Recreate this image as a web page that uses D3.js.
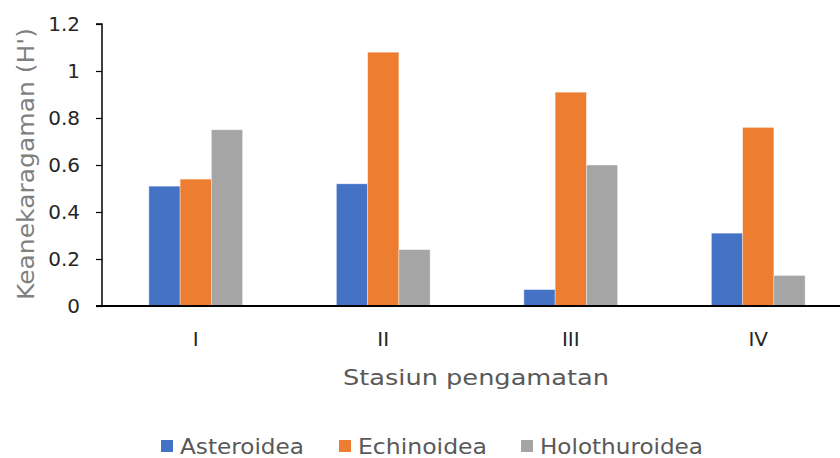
<!DOCTYPE html>
<html>
<head>
<meta charset="utf-8">
<script src="https://cdn.jsdelivr.net/npm/d3@7"></script>
<style>
  html, body { margin: 0; padding: 0; background: #fff; }
  svg text { font-family: "DejaVu Sans", "Open Sans", sans-serif; }
</style>
</head>
<body>
<svg id="chart" width="840" height="458"></svg>
<script>
// Diversity index (H') per observation station
const stations = ["I", "II", "III", "IV"];
const seriesNames = ["Asteroidea", "Echinoidea", "Holothuroidea"];
const asteroidea = [0.51, 0.52, 0.07, 0.31];
const echinoidea = [0.54, 1.08, 0.91, 0.76];
const holothuroidea = [0.75, 0.24, 0.60, 0.13];
const yTicks = [0, 0.2, 0.4, 0.6, 0.8, 1, 1.2];
const colors = ["#4472C4", "#ED7D31", "#A5A5A5"];

const seriesValues = [asteroidea, echinoidea, holothuroidea];

const svg = d3.select("#chart");
const plotLeft = 102, plotRight = 852, plotTop = 24, plotBottom = 306;

const x = d3.scaleBand().domain(stations).range([plotLeft, plotRight]).paddingInner(0.5).paddingOuter(0.25);
const xs = d3.scaleBand().domain(seriesNames).range([0, x.bandwidth()]);
const y = d3.scaleLinear().domain([0, 1.2]).range([plotBottom, plotTop]);

// bars
stations.forEach((st, i) => {
  seriesNames.forEach((s, j) => {
    svg.append("rect")
      .attr("x", x(st) + xs(s))
      .attr("y", y(seriesValues[j][i]))
      .attr("width", xs.bandwidth())
      .attr("height", y(0) - y(seriesValues[j][i]))
      .attr("fill", colors[j])
      .attr("stroke", "#ffffff")
      .attr("stroke-opacity", 0.5)
      .attr("stroke-width", 0.75);
  });
});

// y axis
const yAxis = d3.axisLeft(y).tickValues(yTicks).tickSize(6).tickPadding(16)
  .tickFormat(d => d3.format("~g")(d));
const gy = svg.append("g").attr("transform", `translate(${plotLeft},0)`).call(yAxis);
gy.select(".domain").attr("stroke", "#000").attr("stroke-width", 1.5).attr("d", `M-6,${plotTop}H0V${plotBottom}`);
gy.selectAll(".tick line").attr("stroke", "#000").attr("stroke-width", 1.2);
gy.selectAll(".tick text").attr("fill", "#262626").attr("font-size", 20)
  .attr("font-family", "'DejaVu Sans', sans-serif");

// x axis baseline
svg.append("line")
  .attr("x1", 96).attr("x2", 840)
  .attr("y1", plotBottom).attr("y2", plotBottom)
  .attr("stroke", "#000").attr("stroke-width", 2);

// category labels
svg.selectAll(".cat").data(stations).enter().append("text")
  .attr("x", d => x(d) + x.bandwidth() / 2)
  .attr("y", 346)
  .attr("text-anchor", "middle")
  .attr("fill", "#262626")
  .attr("font-size", 20)
  .text(d => d);

// axis titles
svg.append("text")
  .attr("x", 476).attr("y", 385)
  .attr("text-anchor", "middle")
  .attr("fill", "#595959")
  .attr("font-size", 22)
  .attr("textLength", 266)
  .attr("lengthAdjust", "spacingAndGlyphs")
  .text("Stasiun pengamatan");

svg.append("text")
  .attr("transform", "translate(34,164) rotate(-90)")
  .attr("text-anchor", "middle")
  .attr("fill", "#7f7f7f")
  .attr("font-size", 23)
  .attr("textLength", 272)
  .attr("lengthAdjust", "spacingAndGlyphs")
  .text("Keanekaragaman (H')");

// legend
const legendX = [161, 339, 521];
const legendW = [124, 129, 163];
const lg = svg.selectAll(".lg").data(seriesNames).enter().append("g")
  .attr("transform", (d, i) => `translate(${legendX[i]},446)`);
lg.append("rect").attr("x", 0).attr("y", -6).attr("width", 12).attr("height", 12)
  .attr("fill", (d, i) => colors[i]);
lg.append("text").attr("x", 19).attr("y", 7.5)
  .attr("fill", "#595959")
  .attr("font-size", 21)
  .attr("textLength", (d, i) => legendW[i])
  .attr("lengthAdjust", "spacingAndGlyphs")
  .text(d => d);
</script>
</body>
</html>
